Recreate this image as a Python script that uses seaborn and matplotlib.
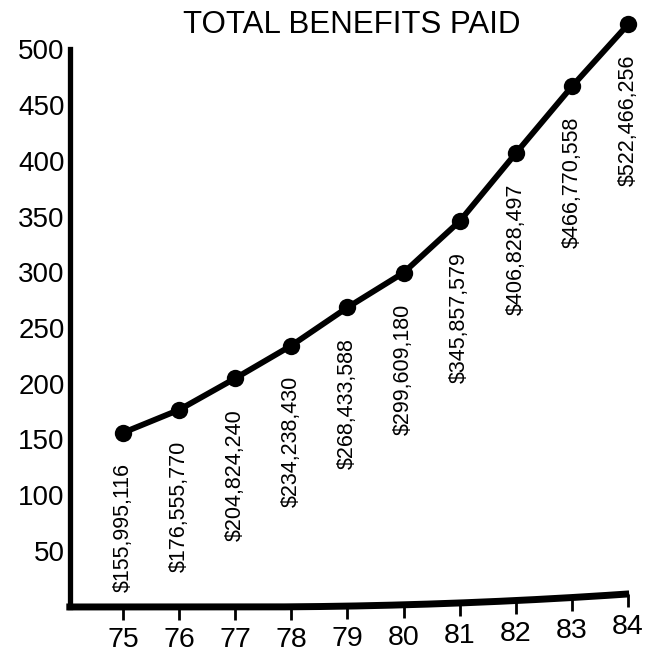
import numpy as np
import pandas as pd
import matplotlib
matplotlib.use("Agg")
import matplotlib.pyplot as plt
import seaborn as sns

# Benefits paid per year (dollars)
years = [75, 76, 77, 78, 79, 80, 81, 82, 83, 84]
benefits_paid = [155995116, 176555770, 204824240, 234238430, 268433588,
                 299609180, 345857579, 406828497, 466770558, 522466256]
y_ticks = [50, 100, 150, 200, 250, 300, 350, 400, 450, 500]
title = "TOTAL BENEFITS PAID"

sns.set_theme(style="white")
plt.rcParams["font.family"] = ["Liberation Sans", "DejaVu Sans"]
plt.rcParams["text.color"] = "black"

df = pd.DataFrame({"year": years,
                   "millions": np.array(benefits_paid, dtype=float) / 1e6})

fig = plt.figure(figsize=(6.47, 6.55), dpi=100)
ax = fig.add_axes([0.1077, 0.0655, 0.889, 0.9185])
ax.set_xlim(74.05, 84.3)
ax.set_ylim(-5, 535)

sns.lineplot(data=df, x="year", y="millions", ax=ax, color="black",
             lw=4.2, marker="o", markersize=12.5, markeredgewidth=0,
             markeredgecolor="black", clip_on=False)

# Dollar amount under each point, reading upward
for yr, val in zip(years, benefits_paid):
    ax.annotate(f"${val:,}", xy=(yr, val / 1e6), xytext=(0, -22),
                textcoords="offset points", rotation=90,
                ha="center", va="top", fontsize=15.5, color="black")

# Left axis: a heavy rule from 0 to 500 with bare labels
for side in ("top", "right", "bottom"):
    ax.spines[side].set_visible(False)
ax.spines["left"].set_bounds(0, 500)
ax.spines["left"].set_linewidth(3.8)
ax.spines["left"].set_color("black")
ax.set_yticks(y_ticks)
ax.tick_params(axis="y", length=0, pad=3.5, labelsize=20, labelcolor="black")
ax.set_xticks([])
ax.set_xlabel("")
ax.set_ylabel("")

# Hand-drawn baseline that bows upward toward the right
def baseline(x):
    x = np.asarray(x, dtype=float)
    return -0.4 + 0.257 * np.clip(x - 77.26, 0, None) ** 2

xs = np.linspace(73.99, 84.02, 300)
ax.plot(xs, baseline(xs), color="black", lw=5, solid_capstyle="butt",
        clip_on=False)
ax.plot(years, baseline(years), ls="none", marker=3, markersize=9.5,
        markeredgewidth=2, color="black", clip_on=False)
for yr in years:
    ax.annotate(str(yr), xy=(yr, float(baseline(yr))), xytext=(0, -24),
                textcoords="offset points", ha="center", va="center",
                fontsize=20.5, color="black")

fig.text(352 / 647, 1 - 25 / 655, title, ha="center", va="center",
         fontsize=22.5, color="black")

fig.savefig("out.png", dpi=100, facecolor="white")
